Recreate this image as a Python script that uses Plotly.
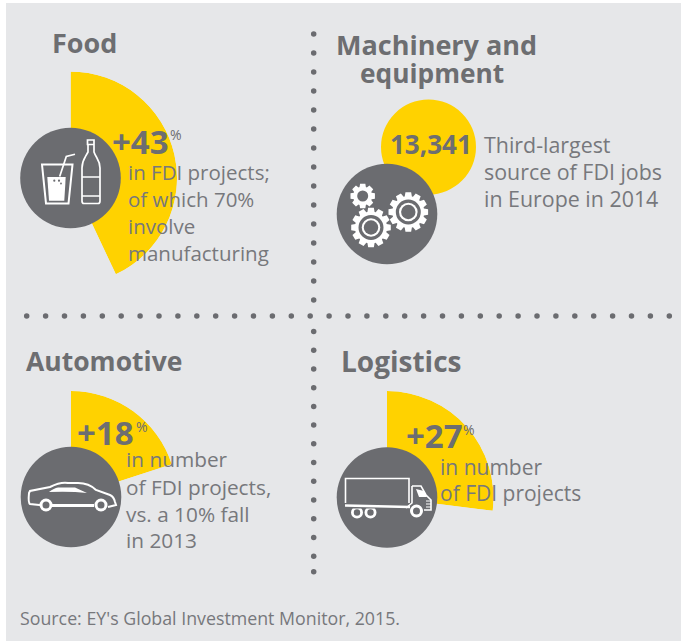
import numpy as np
import plotly.graph_objects as go

# ---- data ----
sector_names = ["Food", "Automotive", "Logistics"]
sector_growth = [43, 20, 27]          # angular share drawn for each sector
machinery_share = [100]
headings = ["Food", "Machinery and", "equipment", "Automotive", "Logistics"]
big_numbers = ["+43", "13,341", "+18", "+27"]
food_lines = ["in FDI projects;", "of which 70%", "involve", "manufacturing"]
machinery_lines = ["Third-largest", "source of FDI jobs", "in Europe in 2014"]
auto_lines = ["in number", "of FDI projects,", "vs. a 10% fall", "in 2013"]
logistics_lines = ["in number", "of FDI projects"]
source = "Source: EY's Global Investment Monitor, 2015."

W, H = 681, 641
YEL = "#FFD200"
DARK = "#6B6C70"
HEAD = "#6D6E71"
BODY = "#77787C"
PANEL = "#E6E7E9"
FONT = "Open Sans"
WH = "white"


def dom(cx, cy, r):
    return dict(x=[(cx - r) / W, (cx + r) / W], y=[1 - (cy + r) / H, 1 - (cy - r) / H])


fig = go.Figure()
polar_layout = {}
pies = [(sector_growth[0], 70.5, 178, 106.5), (sector_growth[1], 71, 497, 106), (sector_growth[2], 387, 497.5, 106.5)]
for i, (name, (v, cx, cy, r)) in enumerate(zip(sector_names, pies)):
    ang = v * 3.6
    key = "polar" if i == 0 else f"polar{i + 1}"
    fig.add_trace(go.Barpolar(r=[1], theta=[ang / 2], width=[ang], name=name, subplot=key, hoverinfo="skip",
                              showlegend=False, marker=dict(color=YEL, line=dict(width=0))))
    low = 90 - ang
    xmax = 1 if low <= 0 else np.cos(np.radians(low))
    ymin = min(0, np.sin(np.radians(low)))
    polar_layout[key] = dict(
        domain=dict(x=[cx / W, (cx + xmax * r) / W], y=[1 - (cy - ymin * r) / H, 1 - (cy - r) / H]),
        sector=[low, 90], bgcolor="rgba(0,0,0,0)",
        radialaxis=dict(range=[0, 1], visible=False),
        angularaxis=dict(direction="clockwise", rotation=90, visible=False))
fig.add_trace(go.Pie(values=machinery_share, labels=["Machinery"], sort=False,
                     marker=dict(colors=[YEL], line=dict(width=0)),
                     textinfo="none", hoverinfo="skip", showlegend=False, domain=dom(428.5, 147, 47.5)))

# dotted dividers
vy = list(34 + 19 * np.arange(15)) + [331.5 + 18.72 * i for i in range(13)] + [571.7]
hx = 26.7 + 18.9 * np.arange(35)
fig.add_trace(go.Scatter(x=[313.7] * len(vy), y=vy, mode="markers", hoverinfo="skip", showlegend=False,
                         marker=dict(size=5.5, color=DARK, line=dict(width=0))))
fig.add_trace(go.Scatter(x=hx, y=[316] * len(hx), mode="markers", hoverinfo="skip", showlegend=False,
                         marker=dict(size=5.5, color=DARK, line=dict(width=0))))

shapes = [dict(type="rect", layer="below", x0=6, x1=W + 2, y0=3, y1=H + 2, fillcolor=PANEL, line=dict(width=0))]


def circ(cx, cy, r, fill=None, line=None, lw=0):
    return dict(type="circle", layer="above", x0=cx - r, x1=cx + r, y0=cy - r, y1=cy + r,
                fillcolor=fill or "rgba(0,0,0,0)", line=dict(color=line or "rgba(0,0,0,0)", width=lw))


def path(d, fill=None, lw=1.5):
    return dict(type="path", layer="above", path=d, fillcolor=fill or "rgba(0,0,0,0)",
                line=dict(color=WH if lw else "rgba(0,0,0,0)", width=lw))


for cx, cy in [(70.5, 178), (387, 214), (71, 497), (387, 497.5)]:
    shapes.append(circ(cx, cy, 50.3, DARK))

# glass and bottle
shapes += [
    path("M42,164.5 L72.5,164.5 L68.5,203.5 L46,203.5 Z", lw=2),
    path("M47.3,177 L65.7,177 L64.3,200.7 L49,200.7 Z", WH, 0),
    circ(54.3, 180.7, 1.1, DARK), circ(59, 180.7, 1.1, DARK), circ(61, 183.5, 0.9, DARK),
    path("M59.7,176.5 L66.3,156.5 L75,154.3", lw=1.7),
    path("M87.5,140 L94,140 L94,144.5 L87.5,144.5 Z M88,144.5 L88,152 C85,158 82,160 82,168 L82,201 Q82,203.5 84,203.5 "
         "L98,203.5 Q100,203.5 100,201 L100,168 C100,160 96,158 94,152 L94,144.5", lw=1.7),
    path("M82,177 L100,177 M82,196 L100,196", lw=1.7),
]


# gears
def gear(cx, cy, ro, rb, n):
    pts = []
    step = 2 * np.pi / n
    for i in range(n):
        a = i * step
        for da, r in [(-0.27, rb), (-0.17, ro), (0.17, ro), (0.27, rb)]:
            t = a + da * step * 1.6
            pts.append((cx + r * np.cos(t), cy + r * np.sin(t)))
    return "M" + " L".join(f"{x:.2f},{y:.2f}" for x, y in pts) + " Z"


for cx, cy, ro, rb, n, rings in [
    (362.7, 196, 12.5, 9.5, 8, [(5.5, DARK)]),
    (371, 227.5, 20, 16, 12, [(12.5, DARK), (9.3, WH), (7.2, DARK)]),
    (408.3, 212, 20, 16, 12, [(12.5, DARK), (9.3, WH), (7.2, DARK)]),
]:
    shapes.append(path(gear(cx, cy, ro, rb, n), WH, 0))
    for r, c in rings:
        shapes.append(circ(cx, cy, r, c))

# car
shapes += [
    path("M44,505.5 L30,504 Q28,503 29,493 L30,491 Q40,489 50,487 C56,484 62,482 68,483 L78,483 C88,483 94,488 96,490 "
         "L110,495 Q114,497 115,502 L116,505 L108,507", lw=2),
    path("M50,505.5 L94,505.5", lw=3),
    path("M49,492 Q54,488 58,487.5 L75,487.5 L87,493 Q70,491 49,492 Z", WH, 0),
    circ(46, 505, 5, DARK, WH, 3),
    circ(101, 505, 5, DARK, WH, 3),
]

# truck
shapes += [
    path("M345.5,503 L345.5,478.5 L409,478.5 L409,503", lw=1.6),
    circ(357, 512.5, 4.6, DARK, WH, 2.8),
    circ(370.5, 512.5, 4.6, DARK, WH, 2.8),
    path("M344,504 L362,504 L380,504 L380,508.5 L344,508.5 Z", DARK, 0),
    path("M345,505.5 L410,507", lw=2.4),
    path("M412,486 L421,486 L426,495 L431,500 L431,510 L424,510 M412,486 L412,503 L406,508", lw=1.6),
    path("M416,489 L424,491 L427,497 L419,497 Z", WH, 0),
    path("M426,501 L431,501 M426,504 L431,504 M426,507 L431,507", lw=1),
    circ(416.5, 511, 5, DARK, WH, 3),
]

ann = []


def txt(s, x, y, size, bold=False, color=BODY):
    ann.append(dict(text=f"<b>{s}</b>" if bold else s, x=x, y=y, xref="x", yref="y", xanchor="left", yanchor="middle",
                    showarrow=False, align="left", borderpad=0, font=dict(family=FONT, size=size, color=color)))


txt(headings[0], 51, 42, 27, True, HEAD)
txt(headings[1], 335, 44, 27, True, HEAD)
txt(headings[2], 359, 73, 26.3, True, HEAD)
txt(headings[3], 25, 361, 26.5, True, HEAD)
txt(headings[4], 340, 361, 28, True, HEAD)

BS = 33
for s, x, y in [(big_numbers[0], 111, 141), (big_numbers[2], 76, 432), (big_numbers[3], 405, 435)]:
    txt(s, x, y, BS, True, HEAD)
txt(big_numbers[1], 389, 144, 26, True, HEAD)
for x, y in [(168.5, 134), (135, 426), (462, 429)]:
    txt("%", x, y, 14, False, HEAD)

for lines, x, ys, size in [(food_lines, 127, [172, 199, 226, 253], 20.5),
                           (machinery_lines, 483, [144, 171, 198], 21.4),
                           (auto_lines, 125, [459, 487, 514, 540], 20.8),
                           (logistics_lines, 439, [467, 493], 21)]:
    for s, y in zip(lines, ys):
        txt(s, x, y, size)
txt(source, 19, 618, 17.8)

fig.update_layout(width=W, height=H, margin=dict(l=0, r=0, t=0, b=0), paper_bgcolor="white", plot_bgcolor="rgba(0,0,0,0)",
                  showlegend=False, shapes=shapes, annotations=ann,
                  xaxis=dict(range=[0, W], visible=False, fixedrange=True),
                  yaxis=dict(range=[H, 0], visible=False, fixedrange=True), **polar_layout)
fig.write_html("out.html", config={"displayModeBar": False},
               post_script="document.body.style.margin='0';document.documentElement.style.overflow='hidden';")
